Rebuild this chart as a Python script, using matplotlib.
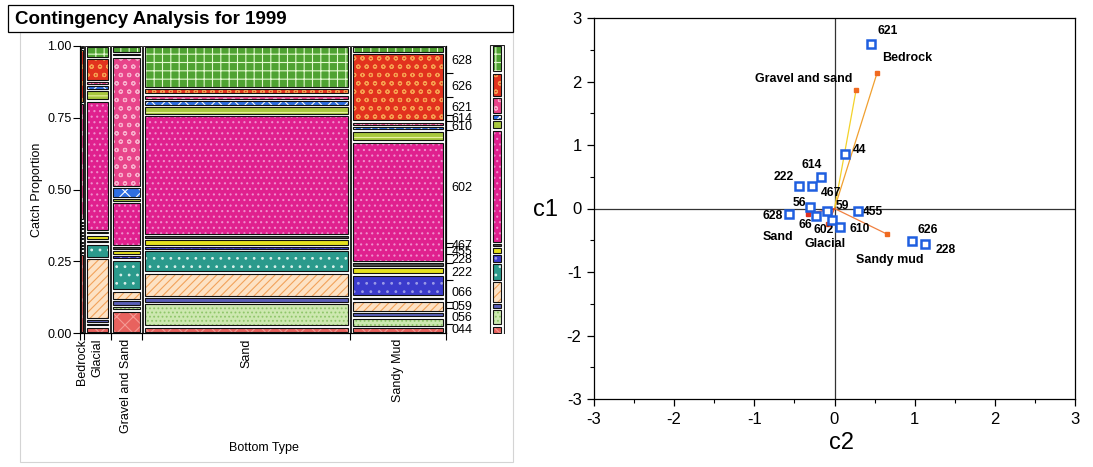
import numpy as np
import matplotlib
matplotlib.use('Agg')
import matplotlib.pyplot as plt
from matplotlib.patches import Rectangle
from matplotlib.ticker import MultipleLocator

plt.rcParams['font.family'] = ['Liberation Sans', 'DejaVu Sans']
plt.rcParams['hatch.linewidth'] = 0.8
plt.rcParams['axes.unicode_minus'] = False

# ---------------- data: mosaic (contingency) ----------------
bottom_types = ['Bedrock', 'Glacial', 'Gravel and Sand', 'Sand', 'Sandy Mud']
bottom_share = [0.012, 0.072, 0.086, 0.568, 0.262]
species = ['044', '056', '059', '066', '222', '228', '455', '467',
           '602', '610', '614', '621', '626', '628']
# catch proportions, bottom -> top in the order of `species`
prop_bedrock = [0.30, 0.004, 0.004, 0.004, 0.004, 0.004, 0.004, 0.004,
                0.004, 0.004, 0.004, 0.45, 0.20, 0.004]
prop_glacial = [0.015, 0.005, 0.005, 0.216, 0.045, 0.004, 0.012, 0.004,
                0.47, 0.03, 0.01, 0.006, 0.077, 0.035]
prop_gravel = [0.07, 0.008, 0.012, 0.026, 0.10, 0.008, 0.008, 0.008,
               0.145, 0.005, 0.03, 0.447, 0.004, 0.017]
prop_sand = [0.015, 0.073, 0.014, 0.077, 0.07, 0.006, 0.017, 0.005,
             0.412, 0.024, 0.012, 0.012, 0.014, 0.139]
prop_sandymud = [0.012, 0.027, 0.012, 0.031, 0.006, 0.07, 0.019, 0.008,
                 0.418, 0.031, 0.008, 0.008, 0.233, 0.017]
y_ticks = [0.0, 0.25, 0.5, 0.75, 1.0]
y_ticklabels = ['0.00', '0.25', '0.50', '0.75', '1.00']

# ---------------- data: correspondence biplot ----------------
sp_names = ['621', '44', '614', '222', '467', '56', '628', '66', '59',
            '602', '610', '455', '626', '228']
sp_c2 = [0.46, 0.13, -0.17, -0.44, -0.28, -0.31, -0.57, -0.23, -0.09,
         -0.03, 0.07, 0.29, 0.97, 1.13]
sp_c1 = [2.59, 0.86, 0.50, 0.36, 0.36, 0.03, -0.09, -0.12, -0.04,
         -0.18, -0.29, -0.04, -0.51, -0.56]
bt_names = ['Bedrock', 'Gravel and sand', 'Sandy mud', 'Sand', 'Glacial']
bt_c2 = [0.53, 0.27, 0.65, -0.33, -0.08]
bt_c1 = [2.13, 1.87, -0.40, -0.08, -0.24]
axis_ticks = [-3, -2, -1, 0, 1, 2, 3]

# ---------------- styles ----------------
cell_face = {'044': '#e8625e', '056': '#cde8b0', '059': '#5b5fb8',
             '066': '#fde2c4', '222': '#2b9a8c', '228': '#3b3bcc',
             '455': '#e6e21e', '467': '#4a4a4a', '602': '#e0208e',
             '610': '#a9c83e', '614': '#2f6fe2', '621': '#e8448a',
             '626': '#e2321e', '628': '#4fa232'}
cell_hatch = {'044': ('xx', '#f49a94'), '056': ('....', '#8fc66a'),
              '066': ('////', '#f2a25a'), '222': ('..', '#d8f0ea'),
              '228': ('..', '#9a9ae8'), '602': ('...', '#f08ccc'),
              '610': ('--', '#e8f0a0'), '614': ('xx', '#ffffff'),
              '621': ('oo', '#f8b0cc'), '626': ('oo', '#f6a050'),
              '628': ('++', '#e4fad0')}
sp_offset = {'621': (6, 13, 'left'), '44': (8, 4, 'left'), '614': (-9, 12, 'center'),
             '222': (-5, 9, 'right'), '467': (9, -7, 'left'), '56': (-3, 4, 'right'),
             '628': (-6, -2, 'right'), '66': (-4, -9, 'right'), '59': (8, 5, 'left'),
             '602': (2, -10, 'right'), '610': (9, -2, 'left'), '455': (5, -1, 'left'),
             '626': (5, 11, 'left'), '228': (11, -6, 'left')}
bt_offset = {'Bedrock': (5, 15, 'left'), 'Gravel and sand': (-4, 11, 'right'),
             'Sandy mud': (-31, -26, 'left'), 'Sand': (-45, -23, 'left'),
             'Glacial': (-24, -20, 'left')}
bt_line = {'Bedrock': '#f0a030', 'Gravel and sand': '#f3d22a', 'Sandy mud': '#f08040',
           'Sand': '#e04a28', 'Glacial': '#e85a28'}
bt_mark = {'Bedrock': '#f06a20', 'Gravel and sand': '#f06a20', 'Sandy mud': '#f06a20',
           'Sand': '#e03020', 'Glacial': '#e84a20'}

W, H = 1093, 467
fig = plt.figure(figsize=(W / 100, H / 100), dpi=100)


def fx(px):
    return px / W


def fy(py):
    return 1 - py / H


# panel frames and title
fig.patches.append(Rectangle((fx(20), fy(462)), fx(513) - fx(20), fy(32) - fy(462),
                             transform=fig.transFigure, fill=False,
                             edgecolor='#d4d4d4', lw=0.8))
fig.patches.append(Rectangle((fx(8), fy(32)), fx(513) - fx(8), fy(5) - fy(32),
                             transform=fig.transFigure, fill=False,
                             edgecolor='black', lw=0.9))
fig.text(fx(15), fy(19), 'Contingency Analysis for 1999', fontsize=13.5,
         fontweight='bold', ha='left', va='center')


def stack_layout(vals, gap):
    v = np.asarray(vals, float)
    n = len(v)
    h = v / v.sum() * (1 - n * gap)
    starts = gap / 2 + np.concatenate([[0], np.cumsum(h + gap)[:-1]])
    return starts, h


def draw_cells(ax, x0, x1, vals, gap):
    starts, h = stack_layout(vals, gap)
    for k, sp in enumerate(species):
        ax.add_patch(Rectangle((x0, starts[k]), x1 - x0, h[k],
                               facecolor=cell_face[sp], edgecolor='none', lw=0))
        if sp in cell_hatch:
            ht, hc = cell_hatch[sp]
            ax.add_patch(Rectangle((x0, starts[k]), x1 - x0, h[k], fill=False,
                                   hatch=ht, edgecolor=hc, lw=0))
        ax.add_patch(Rectangle((x0, starts[k]), x1 - x0, h[k], fill=False,
                               edgecolor='#111111', lw=0.8))


# ---------------- mosaic ----------------
ax_px_w, ax_px_h = 366, 287
ax = fig.add_axes([fx(80), fy(333), fx(446) - fx(80), fy(46) - fy(333)])
ax.set_xlim(0, 1)
ax.set_ylim(0, 1)
columns = [prop_bedrock, prop_glacial, prop_gravel, prop_sand, prop_sandymud]
shares = np.asarray(bottom_share) / np.sum(bottom_share)
xb = np.concatenate([[0], np.cumsum(shares)])
gx = 1.0 / ax_px_w
gy = 2.3 / ax_px_h
for j, col in enumerate(columns):
    x0, x1 = xb[j], xb[j + 1]
    ax.add_patch(Rectangle((x0 + 0.6 * gx, 0.0), (x1 - x0) - 1.2 * gx, 1.0,
                           fill=False, edgecolor='#222222', lw=0.7))
    inset = min(2.6 * gx, 0.3 * (x1 - x0))
    draw_cells(ax, x0 + inset, x1 - inset, col, gy)

ax.spines['top'].set_visible(False)
ax.set_yticks(y_ticks)
ax.set_yticklabels(y_ticklabels, fontsize=9)
ax.tick_params(axis='y', length=5, width=0.8, direction='out', pad=1)
ax.set_xticks(xb)
ax.set_xticklabels([])
ax.set_xticks((xb[:-1] + xb[1:]) / 2, minor=True)
ax.set_xticklabels(bottom_types, minor=True, rotation=90, fontsize=9, va='top')
ax.tick_params(axis='x', which='major', length=5, width=0.8, direction='out')
ax.tick_params(axis='x', which='minor', length=0, pad=4)
ax.set_ylabel('Catch Proportion', fontsize=9, labelpad=3)
fig.text(fx(264), fy(448), 'Bottom Type', fontsize=9, ha='center', va='center')

# marginal distribution
marginal = np.zeros(len(species))
for j, col in enumerate(columns):
    c = np.asarray(col, float)
    marginal += shares[j] * c / c.sum()
m_starts, m_h = stack_layout(marginal, gy)

axr = ax.twinx()
axr.set_ylim(0, 1)
bounds = np.concatenate([m_starts - gy / 2, [1.0]])
axr.set_yticks(bounds[1:-1])
axr.set_yticklabels([])
axr.set_yticks(m_starts + m_h / 2, minor=True)
axr.set_yticklabels(species, minor=True, fontsize=9)
axr.tick_params(axis='y', which='major', length=5, width=0.8, direction='out')
axr.tick_params(axis='y', which='minor', length=0, pad=4)
axr.spines['top'].set_visible(False)

axm = fig.add_axes([fx(489), fy(334), fx(505) - fx(489), fy(45) - fy(334)])
axm.set_xlim(0, 1)
axm.set_ylim(0, 1)
axm.axis('off')
axm.add_patch(Rectangle((0.04, 0.0), 0.92, 1.0, fill=False, edgecolor='#222222', lw=0.8))
draw_cells(axm, 0.25, 0.75, marginal, gy)

# ---------------- biplot ----------------
bx = fig.add_axes([fx(594), fy(399), fx(1075) - fx(594), fy(18) - fy(399)])
bx.set_xlim(-3, 3)
bx.set_ylim(-3, 3)
bx.axhline(0, color='#333333', lw=0.9, zorder=1)
bx.axvline(0, color='#333333', lw=0.9, zorder=1)
for name, x, y in zip(bt_names, bt_c2, bt_c1):
    bx.plot([0, x], [0, y], color=bt_line[name], lw=0.9, zorder=2)
    bx.plot([x], [y], 's', ms=3.5, color=bt_mark[name], zorder=3)
    dx, dy, ha = bt_offset[name]
    bx.annotate(name, (x, y), xytext=(dx, dy), textcoords='offset pixels',
                fontsize=9, fontweight='bold', ha=ha, va='center')
bx.plot(sp_c2, sp_c1, 's', ls='none', ms=6, mfc='white', mec='#1f5fe0',
        mew=1.8, zorder=4)
for name, x, y in zip(sp_names, sp_c2, sp_c1):
    dx, dy, ha = sp_offset[name]
    bx.annotate(name, (x, y), xytext=(dx, dy), textcoords='offset pixels',
                fontsize=8.7, fontweight='bold', ha=ha, va='center')
bx.set_xticks(axis_ticks)
bx.set_yticks(axis_ticks)
bx.set_xticklabels([str(t) for t in axis_ticks])
bx.set_yticklabels([str(t) for t in axis_ticks])
bx.xaxis.set_minor_locator(MultipleLocator(0.5))
bx.yaxis.set_minor_locator(MultipleLocator(0.5))
bx.tick_params(which='major', direction='out', length=5, width=0.9,
               labelsize=12, pad=4)
bx.tick_params(which='minor', direction='out', length=3, width=0.8)
for s in bx.spines.values():
    s.set_linewidth(0.9)
fig.text(fx(546), fy(210), 'c1', fontsize=17, ha='center', va='center')
fig.text(fx(842), fy(443), 'c2', fontsize=17, ha='center', va='center')

fig.savefig('out.png', dpi=100)
